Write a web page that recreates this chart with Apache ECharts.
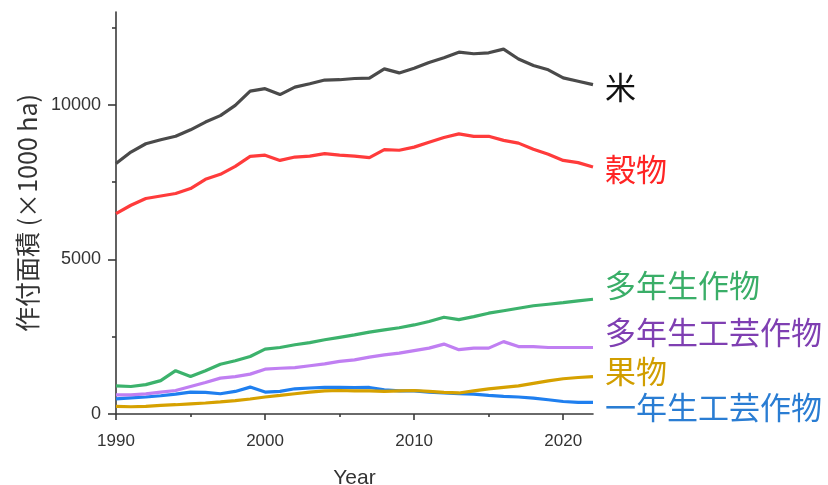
<!DOCTYPE html>
<html>
<head>
<meta charset="utf-8">
<script src="https://cdn.jsdelivr.net/npm/echarts@6/dist/echarts.min.js"></script>
<style>
  html, body { margin: 0; padding: 0; background: #fff; }
  #chart { width: 828px; height: 485px; }
</style>
</head>
<body>
<div id="chart"></div>
<script>
// Planted area by crop group, 1990–2022 (×1000 ha)
const years = [1990,1991,1992,1993,1994,1995,1996,1997,1998,1999,2000,2001,2002,2003,2004,2005,2006,
               2007,2008,2009,2010,2011,2012,2013,2014,2015,2016,2017,2018,2019,2020,2021,2022];

const rice = [8100,8470,8740,8870,8980,9190,9440,9650,9980,10440,10520,10330,10570,10680,10800,10810,10850,
              10860,11160,11030,11180,11370,11520,11700,11650,11680,11800,11480,11270,11130,10870,10760,10650];

const grains = [6480,6750,6970,7050,7130,7290,7590,7750,8010,8330,8370,8200,8310,8340,8420,8370,8340,
                8290,8550,8530,8630,8790,8940,9060,8980,8980,8850,8760,8560,8400,8200,8130,7990];

const perennialCrops = [910,890,950,1080,1400,1210,1400,1610,1720,1860,2100,2150,2240,2310,2400,2480,2560,
                        2650,2720,2790,2880,2990,3130,3050,3150,3260,3340,3420,3500,3550,3600,3660,3710];

const perennialIndustrial = [620,620,650,710,760,890,1020,1160,1210,1290,1450,1480,1500,1560,1620,1700,1750,
                             1840,1910,1970,2050,2130,2260,2080,2130,2130,2340,2180,2180,2150,2150,2150,2150];

const fruit = [245,235,245,280,300,330,355,390,430,485,550,600,655,710,750,760,750,
               750,730,750,760,730,700,680,750,810,860,910,990,1070,1140,1180,1210];

const annualIndustrial = [490,520,550,590,645,710,700,655,730,870,710,730,815,840,858,858,850,
                          858,785,750,750,710,680,655,645,600,570,550,515,460,405,375,375];

const xMajorTicks = [1990, 2000, 2010, 2020];
const xMinorTicks = [1995, 2005, 2015];
const yMajorTicks = [0, 5000, 10000];
const yMinorTicks = [2500, 7500, 12500];

const seriesDefs = [
  { name: '一年生工芸作物', values: annualIndustrial, line: '#1f7fef', text: '#2a7dd3', dy: 5 },
  { name: '果物', values: fruit, line: '#d6a100', text: '#d19e00', dy: -5 },
  { name: '多年生工芸作物', values: perennialIndustrial, line: '#c07ff2', text: '#7f3fb2', dy: -15 },
  { name: '多年生作物', values: perennialCrops, line: '#3cb26c', text: '#3aae68', dy: -14 },
  { name: '穀物', values: grains, line: '#ff3b3b', text: '#ff2424', dy: 2 },
  { name: '米', values: rice, line: '#4a4a4a', text: '#111111', dy: 3 }
];

const latin = '"Liberation Sans", Arial, sans-serif';
const cjk = '"Noto Sans CJK JP", "Noto Sans", sans-serif';
const axisColor = '#3a3a3a';
const plain = v => String(v);

const chart = echarts.init(document.getElementById('chart'), null, { renderer: 'canvas' });

const option = {
  animation: false,
  backgroundColor: '#ffffff',
  grid: { left: 116, right: 235, top: 12, bottom: 71, containLabel: false, outerBoundsMode: 'none' },
  xAxis: [
    {
      type: 'value', min: 1990, max: 2022, interval: 10,
      name: 'Year', nameLocation: 'middle', nameGap: 54,
      nameTextStyle: { fontFamily: latin, fontSize: 21, color: '#333' },
      axisLine: { show: true, onZero: false, lineStyle: { color: axisColor, width: 1.6 } },
      axisTick: { show: true, inside: false, length: 6, customValues: xMajorTicks, lineStyle: { color: axisColor, width: 1.6 } },
      axisLabel: { customValues: xMajorTicks, formatter: plain, margin: 19, fontFamily: latin, fontSize: 17, color: '#333' },
      splitLine: { show: false }
    },
    {
      type: 'value', min: 1990, max: 2022, gridIndex: 0, position: 'bottom',
      axisLine: { show: false },
      axisTick: { show: true, length: 3, customValues: xMinorTicks, lineStyle: { color: axisColor, width: 1.6 } },
      axisLabel: { show: false },
      splitLine: { show: false }
    }
  ],
  yAxis: [
    {
      type: 'value', min: 0, max: 13000, interval: 5000,
      name: '作付面積 (×1000 ha)', nameLocation: 'middle', nameGap: 70, nameRotate: 90,
      nameTextStyle: { fontFamily: cjk, fontSize: 25, color: '#333' },
      axisLine: { show: true, onZero: false, lineStyle: { color: axisColor, width: 1.6 } },
      axisTick: { show: true, inside: false, length: 8, customValues: yMajorTicks, lineStyle: { color: axisColor, width: 1.6 } },
      axisLabel: { customValues: yMajorTicks, formatter: plain, margin: 15, fontFamily: latin, fontSize: 18, color: '#333' },
      splitLine: { show: false }
    },
    {
      type: 'value', min: 0, max: 13000, gridIndex: 0, position: 'left',
      axisLine: { show: false },
      axisTick: { show: true, length: 4, customValues: yMinorTicks, lineStyle: { color: axisColor, width: 1.6 } },
      axisLabel: { show: false },
      splitLine: { show: false }
    }
  ],
  series: seriesDefs.map(d => ({
    name: d.name,
    type: 'line',
    xAxisIndex: 0,
    yAxisIndex: 0,
    data: years.map((y, i) => [y, d.values[i]]),
    showSymbol: false,
    symbol: 'none',
    clip: false,
    lineStyle: { color: d.line, width: 3.2 },
    itemStyle: { color: d.line },
    endLabel: {
      show: true,
      formatter: d.name,
      distance: 12,
      offset: [0, d.dy],
      fontFamily: cjk,
      fontSize: 31,
      color: d.text
    }
  }))
};

chart.setOption(option);
</script>
</body>
</html>
